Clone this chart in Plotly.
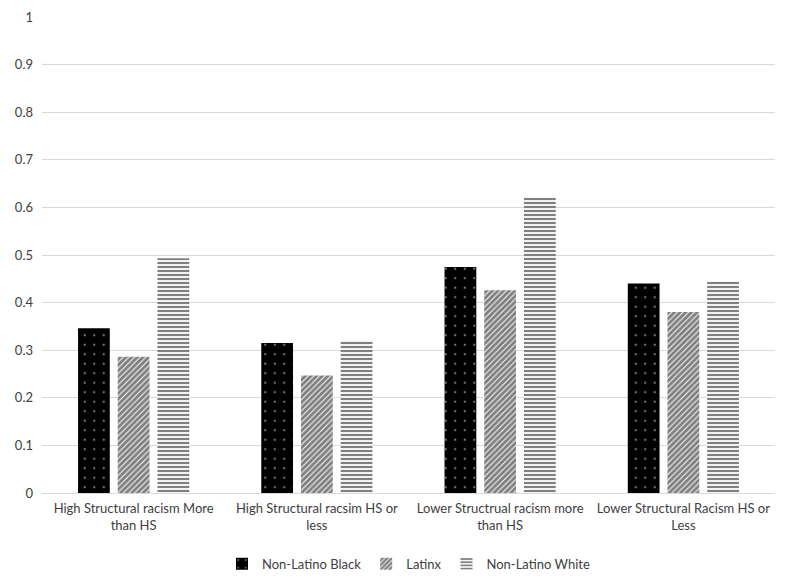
import plotly.graph_objects as go

categories = [
    "High Structural racism More<br>than HS",
    "High Structural racsim HS or<br>less",
    "Lower Structrual racism more<br>than HS",
    "Lower Structural Racism HS or<br>Less",
]
black_vals = [0.346, 0.315, 0.475, 0.440]
latinx_vals = [0.286, 0.247, 0.426, 0.380]
white_vals = [0.493, 0.320, 0.621, 0.445]
y_ticks = [0, 0.1, 0.2, 0.3, 0.4, 0.5, 0.6, 0.7, 0.8, 0.9, 1]
y_labels = ["0", "0.1", "0.2", "0.3", "0.4", "0.5", "0.6", "0.7", "0.8", "0.9", "1"]

fig = go.Figure()
fig.add_trace(go.Bar(
    name="Non-Latino Black", x=categories, y=black_vals,
    marker=dict(color="black", line=dict(width=0),
                pattern=dict(shape=".", fgcolor="white", bgcolor="black",
                             fillmode="overlay", size=9.5, solidity=0.04)),
))
fig.add_trace(go.Bar(
    name="Latinx", x=categories, y=latinx_vals,
    marker=dict(color="white", line=dict(width=0),
                pattern=dict(shape="/", fgcolor="black", bgcolor="white",
                             fillmode="overlay", size=4, solidity=0.75)),
))
fig.add_trace(go.Bar(
    name="Non-Latino White", x=categories, y=white_vals,
    marker=dict(color="white", line=dict(width=0),
                pattern=dict(shape="-", fgcolor="black", bgcolor="white",
                             fillmode="overlay", size=4, solidity=0.55)),
))

fig.update_layout(
    width=779, height=579,
    margin=dict(l=34, r=12, t=9, b=93),
    paper_bgcolor="white", plot_bgcolor="white",
    barmode="group", bargap=0.35, bargroupgap=0.2,
    font=dict(family="Lato, Open Sans, sans-serif", size=13, color="#404040"),
    showlegend=True,
    legend=dict(orientation="h", x=0.5, xanchor="center", y=-0.115, yanchor="top",
                itemwidth=30, font=dict(size=13, color="#404040")),
    yaxis=dict(range=[0, 1], tickvals=y_ticks, ticktext=y_labels,
               showgrid=True, gridcolor="#d9d9d9", gridwidth=1,
               zeroline=True, zerolinecolor="#d9d9d9", zerolinewidth=1,
               showline=False, ticks="", ticklen=0, automargin=False,
               ticklabelstandoff=8,
               tickfont=dict(size=13, color="#404040")),
    xaxis=dict(showline=False, ticks="", showgrid=False, automargin=False,
               ticklabelstandoff=6,
               tickfont=dict(size=13, color="#404040")),
)

fig.write_html("out.html")
